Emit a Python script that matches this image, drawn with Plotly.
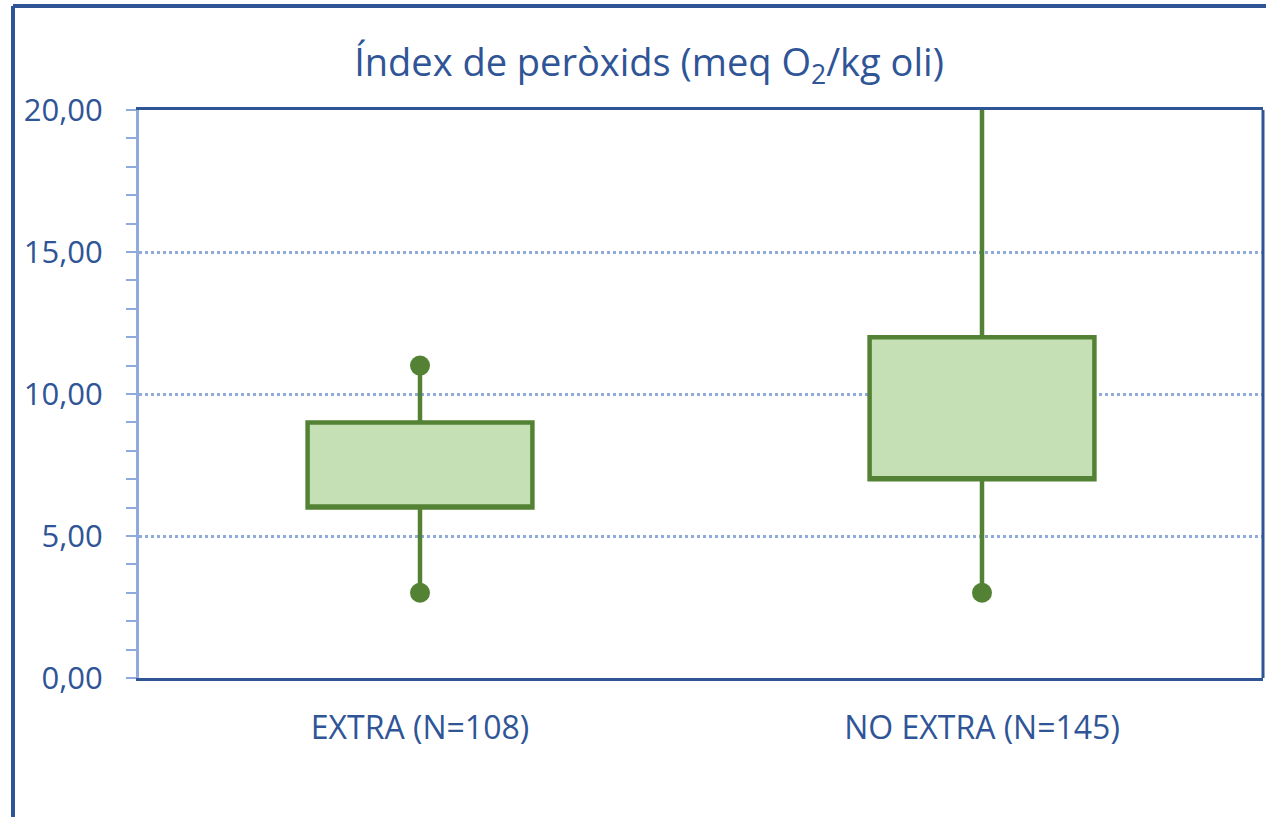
import plotly.graph_objects as go

categories = ["EXTRA (N=108)", "NO EXTRA (N=145)"]
q1 = [6.0, 7.0]
q3 = [9.0, 12.0]
lower = [3.0, 3.0]
upper = [11.0, 25.0]
y_ticks = [0, 5, 10, 15, 20]

GREEN = "#548235"
FILL = "#C5E0B4"
DARK = "#2F5597"
LIGHT = "#8FAADC"

fig = go.Figure()
fig.add_trace(go.Box(
    x=categories, q1=q1, median=q1, q3=q3,
    lowerfence=lower, upperfence=upper,
    width=0.4, whiskerwidth=0,
    fillcolor=FILL, line=dict(color=GREEN, width=4.5),
    boxpoints=False, showlegend=False,
))
fig.add_trace(go.Scatter(
    x=categories + categories, y=lower + upper, mode="markers",
    marker=dict(color=GREEN, size=20), showlegend=False, cliponaxis=True,
))

W, H = 1266, 817
L, R, T, B = 139, 3, 110, 139
pw, ph = W - L - R, H - T - B
def px(x): return (x - L) / pw
def py(y): return (H - B - y) / ph

fig.update_layout(
    width=W, height=H,
    margin=dict(l=L, r=R, t=T, b=B),
    paper_bgcolor="white", plot_bgcolor="white",
    separators=",.",
    title=dict(
        text="Índex de peròxids (meq O<sub>2</sub>/kg oli)",
        x=649 / W, xanchor="center", y=1 - 63 / H, yanchor="middle",
        font=dict(family="Open Sans, Noto Sans, sans-serif", size=38, color=DARK),
    ),
    xaxis=dict(
        type="category", range=[-0.5, 1.5],
        showline=True, linecolor=DARK, linewidth=3, mirror=True,
        showgrid=False, ticks="", ticklabelstandoff=20,
        tickfont=dict(family="Open Sans, Noto Sans, sans-serif", size=32, color=DARK),
    ),
    yaxis=dict(
        range=[0, 20], tickvals=y_ticks, tickformat=".2f",
        showline=True, linecolor=LIGHT, linewidth=3,
        showgrid=True, gridcolor=LIGHT, gridwidth=2.5, griddash="dot",
        zeroline=False,
        ticks="outside", ticklen=10, tickwidth=2, tickcolor=LIGHT,
        ticklabelstandoff=17,
        minor=dict(dtick=1, ticks="outside", ticklen=10, tickwidth=2, tickcolor=LIGHT, showgrid=False),
        tickfont=dict(family="Open Sans, Noto Sans, sans-serif", size=31, color=DARK),
    ),
    shapes=[
        dict(type="line", xref="paper", yref="paper", x0=1, x1=1, y0=0, y1=1,
             line=dict(color=DARK, width=3)),
        dict(type="line", xref="paper", yref="paper", x0=px(13), x1=px(1266), y0=py(6), y1=py(6),
             line=dict(color=DARK, width=4)),
        dict(type="line", xref="paper", yref="paper", x0=px(13), x1=px(13), y0=py(6), y1=py(817),
             line=dict(color=DARK, width=4)),
    ],
)

fig.write_html("out.html", config={"displayModeBar": False},
               post_script="document.body.style.margin='0';document.body.style.overflow='hidden';")
